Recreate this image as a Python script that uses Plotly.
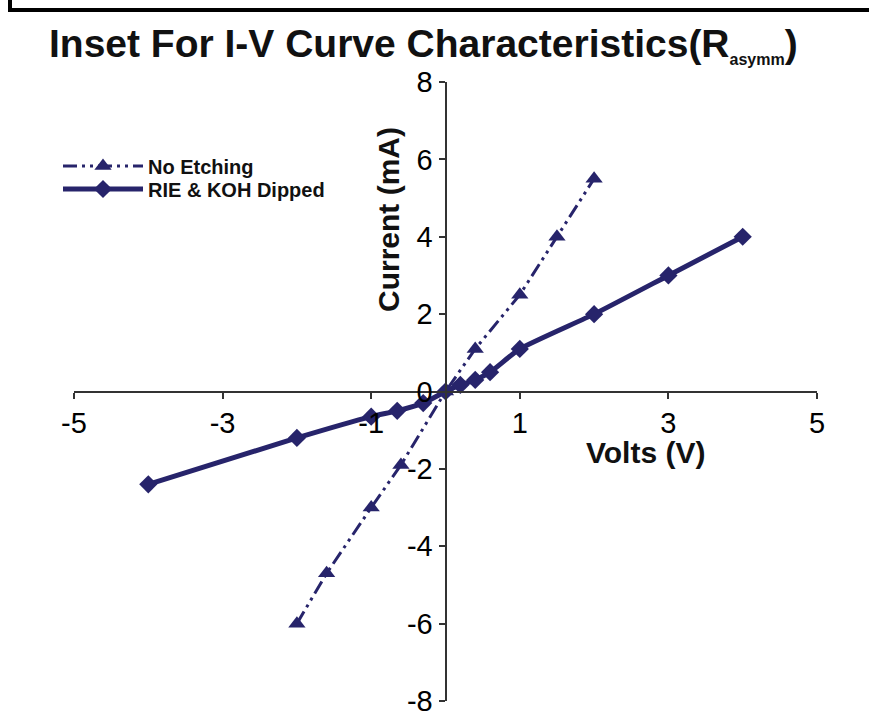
import plotly.graph_objects as go

# I-V measurements (volts, milliamps)
no_etch_v = [-2, -1.6, -1, -0.6, 0, 0.4, 1, 1.5, 2]
no_etch_i = [-6, -4.7, -3, -1.9, 0, 1.1, 2.5, 4, 5.5]

rie_koh_v = [-4, -2, -1, -0.65, -0.3, 0, 0.2, 0.4, 0.6, 1, 2, 3, 4]
rie_koh_i = [-2.4, -1.2, -0.65, -0.5, -0.3, 0, 0.17, 0.3, 0.5, 1.1, 2, 3, 4]

x_ticks = [-5, -3, -1, 1, 3, 5]
x_tick_text = ["-5", "-3", "-1", "1", "3", "5"]
y_ticks = [-8, -6, -4, -2, 0, 2, 4, 6, 8]
y_tick_text = ["-8", "-6", "-4", "-2", "0", "2", "4", "6", "8"]

W, H = 869, 728
ML, MR, MT, MB = 74, 52, 82, 27
PW, PH = W - ML - MR, H - MT - MB


def px(x):
    return (x - ML) / PW


def py(y):
    return 1 - (y - MT) / PH


NAVY = "#27246b"
FONT = "Liberation Sans, Arial, sans-serif"

fig = go.Figure()
fig.add_trace(go.Scatter(
    x=no_etch_v, y=no_etch_i, name="No Etching", mode="lines+markers",
    line=dict(color=NAVY, width=3, dash="14px,5px,3px,5px,3px,5px"),
    marker=dict(symbol="triangle-up", size=15, color=NAVY),
    legend="legend",
))
fig.add_trace(go.Scatter(
    x=rie_koh_v, y=rie_koh_i, name="RIE & KOH Dipped", mode="lines+markers",
    line=dict(color=NAVY, width=5, shape="spline", smoothing=0.5),
    marker=dict(symbol="diamond", size=14, color=NAVY),
    legend="legend2",
))

axis_common = dict(
    showgrid=False, zeroline=False, showline=True, linecolor="#333333",
    linewidth=2, ticks="outside", ticklen=6, tickwidth=2, tickcolor="#333333",
    tickfont=dict(family=FONT, size=29, color="black"), anchor="free",
    position=0.5,
)
fig.update_xaxes(range=[-5, 5], tickvals=x_ticks, ticktext=x_tick_text,
                 side="bottom", **axis_common)
fig.update_yaxes(range=[-8, 8], tickvals=y_ticks, ticktext=y_tick_text,
                 side="left", **axis_common)

annotations = [
    dict(text="Inset For I-V Curve Characteristics(R<sub>"
              "<span style='font-size:16px'>asymm</span></sub>)",
         x=px(47), y=py(45), xanchor="left", yanchor="middle",
         font=dict(family=FONT, size=39, color="#111111", weight="bold")),
    dict(text="<b>Current (mA)</b>", textangle=-90,
         x=px(388), y=py(220), xanchor="center", yanchor="middle",
         font=dict(family=FONT, size=30, color="#111111")),
    dict(text="<b>Volts (V)</b>",
         x=px(645), y=py(452), xanchor="center", yanchor="middle",
         font=dict(family=FONT, size=30, color="#111111")),
]
for a in annotations:
    a.update(xref="paper", yref="paper", showarrow=False)

legend_common = dict(
    xanchor="left", yanchor="middle", itemwidth=80,
    bgcolor="rgba(0,0,0,0)",
    font=dict(family=FONT, size=20, color="#111111", weight="bold"),
)

fig.update_layout(
    width=W, height=H, autosize=False,
    margin=dict(l=ML, r=MR, t=MT, b=MB),
    plot_bgcolor="white", paper_bgcolor="white",
    showlegend=True,
    legend=dict(x=px(58), y=py(166), **legend_common),
    legend2=dict(x=px(58), y=py(189), **legend_common),
    annotations=annotations,
    shapes=[
        dict(type="line", xref="paper", yref="paper",
             x0=px(10), x1=px(10), y0=py(-10), y1=py(10),
             line=dict(color="black", width=4)),
        dict(type="line", xref="paper", yref="paper",
             x0=px(8), x1=px(880), y0=py(10), y1=py(10),
             line=dict(color="black", width=4)),
    ],
)

fig.write_html("out.html")
